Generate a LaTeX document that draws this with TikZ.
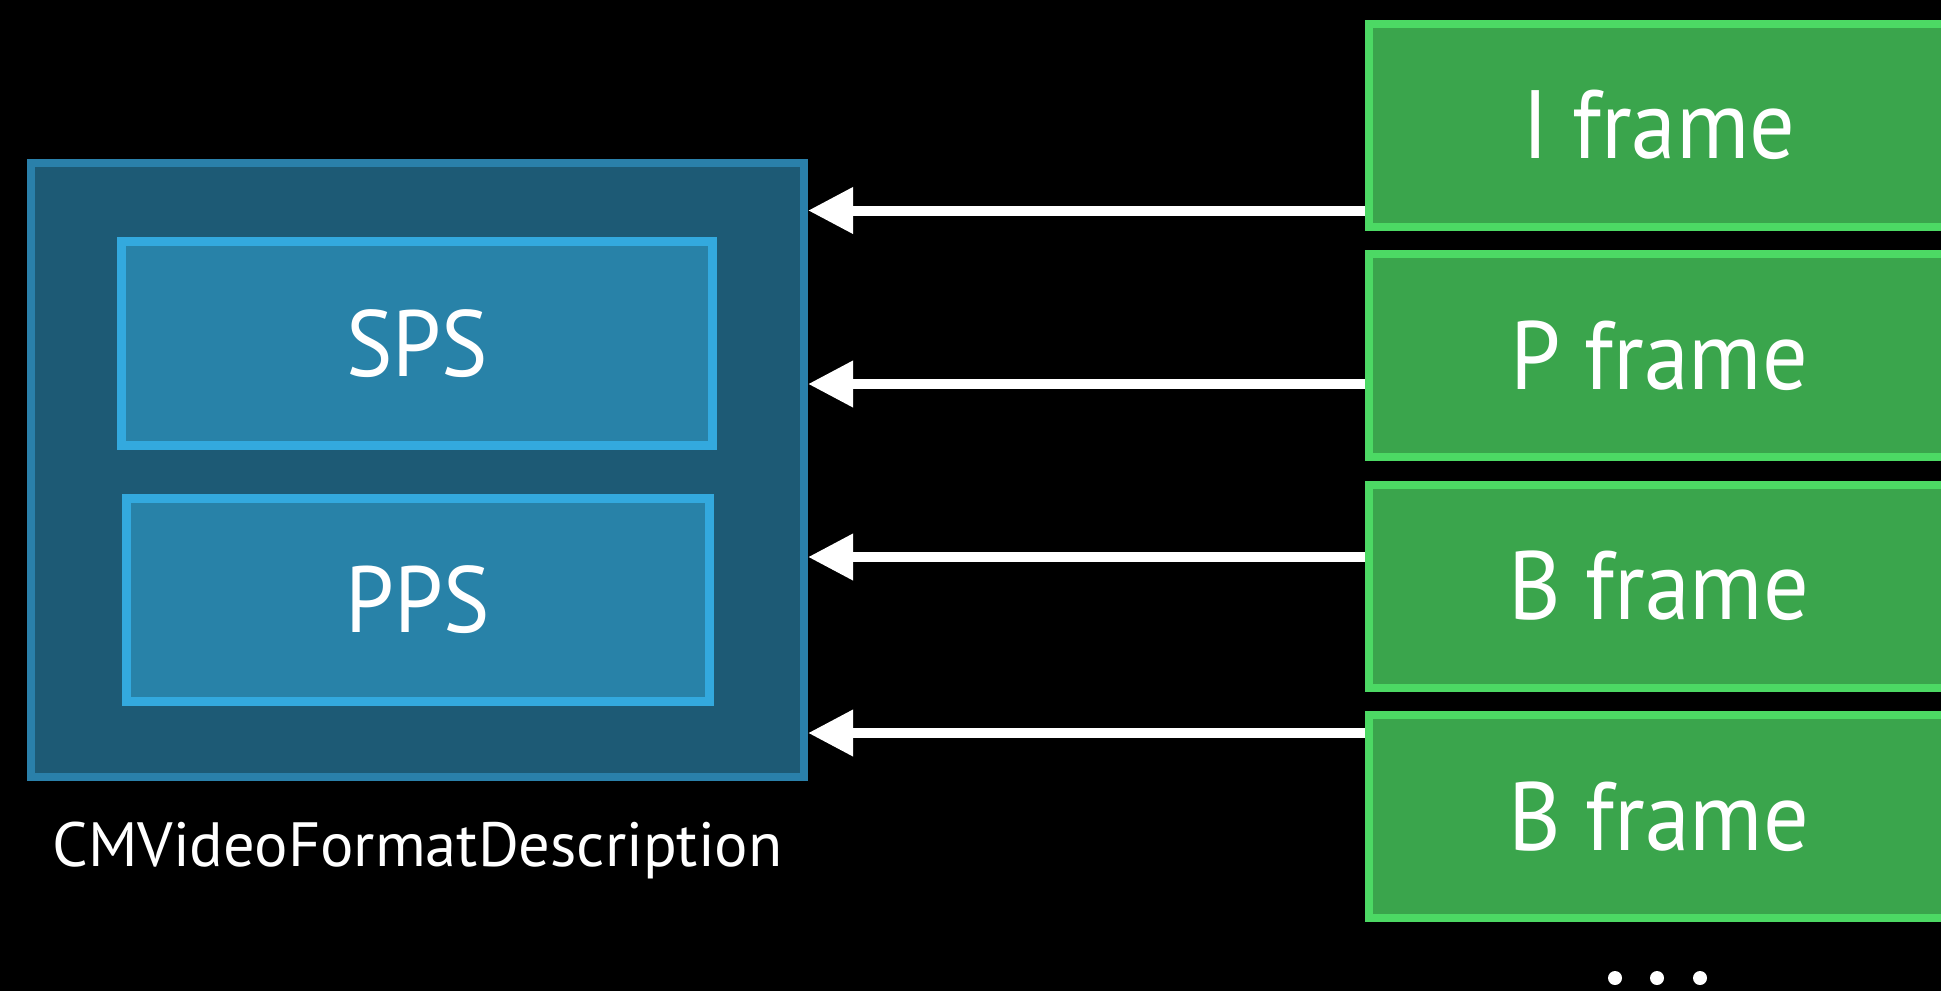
\documentclass[tikz,border=0pt]{standalone}
\usepackage{fontspec}
\setmainfont{PT Sans}
\newfontfamily\narrowsans[FakeStretch=0.93]{PT Sans}
\usetikzlibrary{arrows.meta}
\definecolor{fmtfill}{HTML}{1D5A75}
\definecolor{fmtline}{HTML}{2A80AA}
\definecolor{psfill}{HTML}{2882A8}
\definecolor{psline}{HTML}{33A9DE}
\definecolor{frfill}{HTML}{3AA54C}
\definecolor{frline}{HTML}{4CD964}
\tikzset{
  fmtbox/.style={draw=fmtline, fill=fmtfill, line width=8pt, inner sep=0pt,
    minimum width=773pt, minimum height=614pt},
  psbox/.style={draw=psline, fill=psfill, line width=9pt, inner sep=0pt,
    text=white, font=\narrowsans\fontsize{94}{100}\selectfont},
  framebox/.style={draw=frline, fill=frfill, line width=8pt, inner sep=0pt,
    minimum width=580pt, minimum height=203pt,
    text=white, font=\narrowsans\fontsize{97}{104}\selectfont},
  refarrow/.style={draw=white, line width=10pt,
    -{Triangle[length=45pt,width=44pt]}},
  dot/.style={circle, fill=white, inner sep=0pt, minimum size=14pt}
}
\begin{document}
\begin{tikzpicture}[x=1pt,y=-1pt]
  \fill[black] (0,0) rectangle (1941,991);
  \useasboundingbox (0,0) rectangle (1941,991);

  % format description with its parameter sets
  \node[fmtbox] (fmt) at (417.5,470) {};
  \node[psbox, minimum width=591pt, minimum height=204pt] (sps) at (417,343.5) {SPS};
  \node[psbox, minimum width=583pt, minimum height=203pt] (pps) at (418,600) {PPS};
  \node[anchor=base, text=white, font=\fontsize{62.5}{68}\selectfont] (label)
    at (417.5,866) {CMVideoFormatDescription};

  % encoded frames
  \node[framebox] (fi)  at (1659,125)   {I frame};
  \node[framebox] (fp)  at (1659,355.5) {P frame};
  \node[framebox] (fb1) at (1659,586)   {B frame};
  \node[framebox] (fb2) at (1659,816.5) {B frame};

  % every frame refers back to the format description
  \coordinate (y1) at (0,210.5);
  \coordinate (y2) at (0,384);
  \coordinate (y3) at (0,557);
  \coordinate (y4) at (0,733);
  \draw[refarrow] (fi.west |- y1)  -- (fmt.east |- y1);
  \draw[refarrow] (fp.west |- y2)  -- (fmt.east |- y2);
  \draw[refarrow] (fb1.west |- y3) -- (fmt.east |- y3);
  \draw[refarrow] (fb2.west |- y4) -- (fmt.east |- y4);

  % more frames follow
  \node[dot] (d1) at (1615,978) {};
  \node[dot] (d2) at (1657,978) {};
  \node[dot] (d3) at (1700,978) {};
\end{tikzpicture}
\end{document}
